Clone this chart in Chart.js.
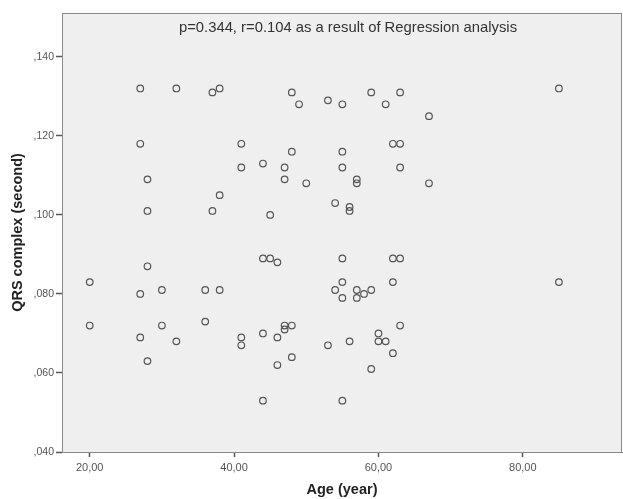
<!DOCTYPE html>
<html>
<head>
<meta charset="utf-8">
<script src="https://cdn.jsdelivr.net/npm/chart.js@4"></script>
<style>
  html, body { margin: 0; padding: 0; background: #fff; }
  #wrap { width: 623px; height: 499px; }
</style>
</head>
<body>
<div id="wrap"><canvas id="graphik1" width="623" height="499"></canvas></div>
<script>
// age (year) and QRS complex (second)
const ages = [
  27, 32, 37, 38, 48, 49, 27, 28, 28, 37, 38, 41, 41, 44, 45, 47, 47, 48, 50,
  53, 55, 59, 63, 61, 67, 85, 62, 63, 55, 55, 63, 57, 57, 67, 54, 56, 56,
  20, 20, 28, 27, 30, 30, 27, 28, 32, 36, 38, 36, 41, 41, 44, 45, 46, 44, 46,
  47, 47, 48, 48, 46, 44, 55, 62, 63, 55, 62, 85, 54, 57, 58, 59, 55, 57, 63,
  60, 53, 56, 60, 61, 62, 59, 55
];
const qrs = [
  0.132, 0.132, 0.131, 0.132, 0.131, 0.128, 0.118, 0.109, 0.101, 0.101, 0.105, 0.118, 0.112, 0.113, 0.100, 0.112, 0.109, 0.116, 0.108,
  0.129, 0.128, 0.131, 0.131, 0.128, 0.125, 0.132, 0.118, 0.118, 0.116, 0.112, 0.112, 0.109, 0.108, 0.108, 0.103, 0.102, 0.101,
  0.083, 0.072, 0.087, 0.080, 0.081, 0.072, 0.069, 0.063, 0.068, 0.081, 0.081, 0.073, 0.069, 0.067, 0.089, 0.089, 0.088, 0.070, 0.069,
  0.072, 0.071, 0.072, 0.064, 0.062, 0.053, 0.089, 0.089, 0.089, 0.083, 0.083, 0.083, 0.081, 0.081, 0.080, 0.081, 0.079, 0.079, 0.072,
  0.070, 0.067, 0.068, 0.068, 0.068, 0.065, 0.061, 0.053
];
const xTicks = [20, 40, 60, 80];
const yTicks = [0.04, 0.06, 0.08, 0.10, 0.12, 0.14];
const note = "p=0.344, r=0.104 as a result of Regression analysis";

const points = ages.map((a, i) => ({x: a, y: qrs[i]}));
const FONT = "'Liberation Sans', Arial, sans-serif";

// plot background, frame and the regression note
const frame = {
  id: 'frame',
  beforeDraw(chart) {
    const a = chart.chartArea, c = chart.ctx;
    c.save();
    c.fillStyle = '#efeff0';
    c.fillRect(a.left, a.top, a.right - a.left, a.bottom - a.top);
    c.restore();
  },
  afterDraw(chart) {
    const a = chart.chartArea, c = chart.ctx;
    c.save();
    c.strokeStyle = '#8a8a8a';
    c.lineWidth = 1;
    c.strokeRect(a.left + 0.5, a.top + 0.5, a.right - a.left - 1, a.bottom - a.top);
    c.fillStyle = '#333';
    c.font = "14.8px " + FONT;
    c.textAlign = 'center';
    c.textBaseline = 'middle';
    c.fillText(note, (a.left + a.right) / 2 + 6, a.top + 15);
    c.restore();
  }
};

var ctx = document.getElementById("graphik1");
var graphik1 = new Chart(ctx, {
  type: 'scatter',
  data: {
    datasets: [{
      data: points,
      pointRadius: 3.3,
      pointBorderWidth: 1.2,
      borderColor: '#555',
      backgroundColor: 'rgba(0,0,0,0)',
      pointHoverRadius: 3.3
    }]
  },
  options: {
    responsive: false,
    animation: false,
    events: [],
    layout: { autoPadding: false, padding: { top: 13, right: 1, left: 0, bottom: 0 } },
    plugins: { legend: { display: false }, tooltip: { enabled: false } },
    scales: {
      x: {
        type: 'linear',
        min: 16.16,
        max: 93.74,
        afterBuildTicks: s => { s.ticks = xTicks.map(v => ({value: v})); },
        afterFit: s => { s.height = 47; s.paddingLeft = 0; s.paddingRight = 0; },
        grid: { drawOnChartArea: false, drawTicks: true, tickLength: 5, tickWidth: 1.5, tickColor: '#555', color: '#555' },
        border: { color: '#8a8a8a' },
        ticks: {
          padding: 4,
          color: '#555',
          font: { family: FONT, size: 11 },
          callback: v => v.toFixed(2).replace('.', ',')
        },
        title: {
          display: true,
          text: 'Age (year)',
          color: '#222',
          font: { family: FONT, size: 14.5, weight: 'bold' },
          padding: { top: 0, bottom: 0 }
        }
      },
      y: {
        type: 'linear',
        min: 0.04,
        max: 0.1511,
        afterBuildTicks: s => { s.ticks = yTicks.map(v => ({value: v})); },
        afterFit: s => { s.width = 62; },
        grid: { drawOnChartArea: false, drawTicks: true, tickLength: 6, tickWidth: 1.5, tickColor: '#555', color: '#555' },
        border: { color: '#8a8a8a' },
        ticks: {
          padding: 2,
          color: '#555',
          font: { family: FONT, size: 10.5 },
          callback: v => v.toFixed(3).replace('0.', ',')
        },
        title: {
          display: true,
          text: 'QRS complex (second)',
          color: '#222',
          font: { family: FONT, size: 14.5, weight: 'bold' },
          padding: { top: 9, bottom: 0 }
        }
      }
    }
  },
  plugins: [frame]
});
</script>
</body>
</html>
